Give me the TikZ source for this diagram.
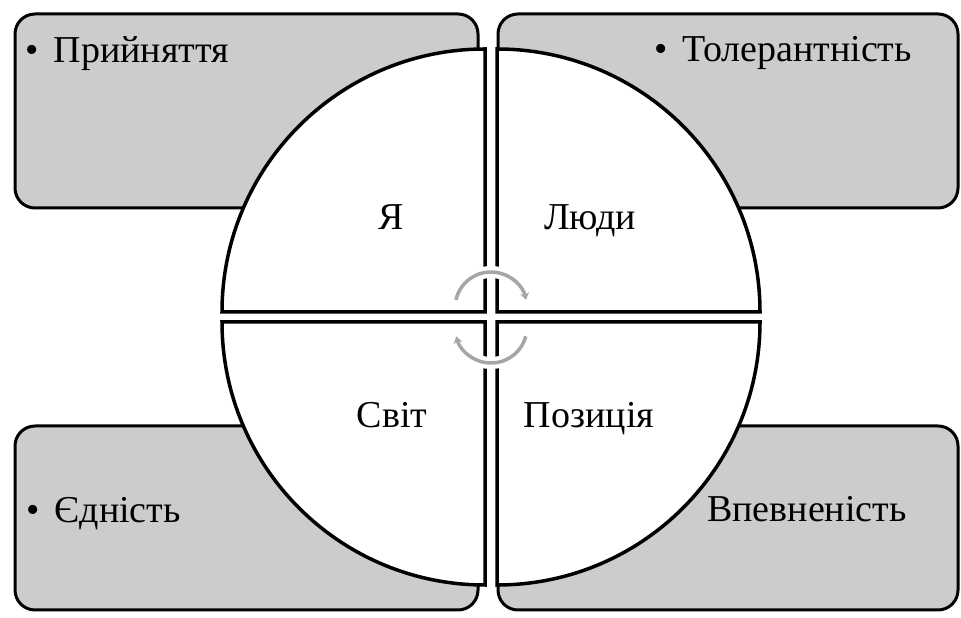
\documentclass[tikz,border=0pt]{standalone}
\usepackage{fontspec}
\setmainfont{Liberation Serif}
\usepackage{tikz}
\usetikzlibrary{arrows.meta, positioning}

\begin{document}
\begin{tikzpicture}[
                x=1pt, y=1pt,
                box/.style={draw, line width=3pt, fill=black!20, rounded corners=20pt},
                piece/.style={draw, line width=3.5pt, fill=white, line join=miter},
                halo/.style={draw=white, line width=12pt},
                cyc/.style={draw=black!35, line width=3.5pt, -{Stealth[length=7pt, width=9pt]}},
                lbl/.style={inner sep=0pt, anchor=base, font=\fontsize{38}{44}\selectfont},
                item/.style={lbl, anchor=base west}]
            \useasboundingbox (0,0) rectangle (961,618);

            % Рамки
            \path[box] (15,410) rectangle (478,604);
            \path[box] (498,410) rectangle (958,604);
            \path[box] (15,8) rectangle (478,192);
            \path[box] (498,8) rectangle (958,192);

            % Круг з чотирьох частин
            \path[piece] (485,306) -- (222,306) arc[start angle=180, end angle=90, radius=263] -- cycle;
            \path[piece] (497,306) -- (497,569) arc[start angle=90, end angle=0, radius=263] -- cycle;
            \path[piece] (485,296) -- (485,33) arc[start angle=270, end angle=180, radius=263] -- cycle;
            \path[piece] (497,296) -- (760,296) arc[start angle=0, end angle=-90, radius=263] -- cycle;

            % Стрілки циклу
            \path[halo] (491,310) ++(160:36) arc[start angle=160, end angle=20, radius=36];
            \path[halo] (491,291) ++(-20:36) arc[start angle=-20, end angle=-160, radius=36];
            \path[cyc] (491,310) ++(167:36) arc[start angle=167, end angle=13, radius=36];
            \path[cyc] (491,291) ++(-15:36) arc[start angle=-15, end angle=-165, radius=36];

            % Підписи
            \node[lbl] (ya) at (391,388) {Я};
            \node[lbl] (lyudy) at (590,388) {Люди};
            \node[lbl] (svit) at (392,190) {Світ};
            \node[lbl] (pozytsiya) at (589,190) {Позиція};

            \node[item] (pryiniattia) at (25,555) {•\hspace{0.4em}Прийняття};
            \node[item] (tolerantnist) at (654,556) {•\hspace{0.4em}Толерантність};
            \node[item] (yednist) at (26,95) {•\hspace{0.4em}Єдність};
            \node[item] (vpevnenist) at (707,96) {Впевненість};

        \end{tikzpicture}
\end{document}
